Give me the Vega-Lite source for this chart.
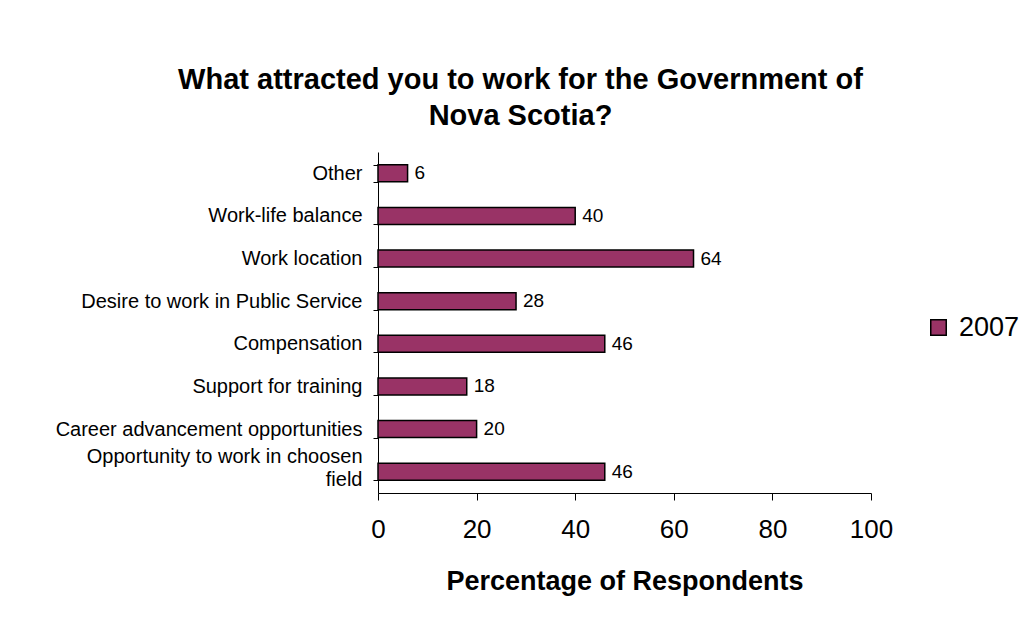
{
  "$schema": "https://vega.github.io/schema/vega-lite/v6.json",
  "width": 493,
  "height": 341,
  "autosize": {"type": "none"},
  "padding": {"left": 378, "top": 152, "right": 157, "bottom": 136},
  "background": "white",
  "title": {
    "text": ["What attracted you to work for the Government of", "Nova Scotia?"],
    "font": "Liberation Sans",
    "fontSize": 29,
    "fontWeight": "bold",
    "color": "black",
    "anchor": "middle",
    "dx": -104,
    "offset": 11,
    "lineHeight": 36
  },
  "data": {
    "values": [
      {"category": "Other", "value": 6, "year": "2007"},
      {"category": "Work-life balance", "value": 40, "year": "2007"},
      {"category": "Work location", "value": 64, "year": "2007"},
      {"category": "Desire to work in Public Service", "value": 28, "year": "2007"},
      {"category": "Compensation", "value": 46, "year": "2007"},
      {"category": "Support for training", "value": 18, "year": "2007"},
      {"category": "Career advancement opportunities", "value": 20, "year": "2007"},
      {"category": "Opportunity to work in choosen field", "value": 46, "year": "2007"}
    ]
  },
  "encoding": {
    "y": {
      "field": "category",
      "type": "nominal",
      "sort": null,
      "scale": {"paddingInner": 0.6, "paddingOuter": 0.3},
      "axis": {
        "title": null,
        "tickBand": "extent",
        "tickSize": 5,
        "tickColor": "black",
        "domainColor": "black",
        "labelFont": "Liberation Sans",
        "labelFontSize": 20,
        "labelColor": "black",
        "labelPadding": 11,
        "labelLimit": 400,
        "labelLineHeight": 23,
        "labelOffset": {"condition": {"test": "datum.label == 'Opportunity to work in choosen field'", "value": -15}, "value": 0},
        "labelExpr": "datum.label == 'Opportunity to work in choosen field' ? ['Opportunity to work in choosen', 'field'] : datum.label"
      }
    },
    "x": {
      "field": "value",
      "type": "quantitative",
      "scale": {"domain": [0, 100]},
      "axis": {
        "title": "Percentage of Respondents",
        "titleFont": "Liberation Sans",
        "titleFontSize": 27,
        "titleFontWeight": "bold",
        "titleColor": "black",
        "titlePadding": 26,
        "values": [0, 20, 40, 60, 80, 100],
        "grid": false,
        "tickSize": 7,
        "tickColor": "black",
        "domainColor": "black",
        "labelFont": "Liberation Sans",
        "labelFontSize": 26,
        "labelColor": "black",
        "labelPadding": 16,
        "labelFlush": false
      }
    }
  },
  "layer": [
    {
      "mark": {"type": "bar", "stroke": "black", "strokeWidth": 1.5},
      "encoding": {
        "fill": {
          "field": "year",
          "type": "nominal",
          "scale": {"range": ["#993366"]},
          "legend": {
            "title": null,
            "orient": "none",
            "legendX": 547,
            "legendY": 162,
            "symbolType": "square",
            "symbolSize": 240,
            "symbolStrokeColor": "black",
            "symbolStrokeWidth": 1.5,
            "labelFont": "Liberation Sans",
            "labelFontSize": 27,
            "labelColor": "black",
            "labelOffset": 7
          }
        }
      }
    },
    {
      "mark": {
        "type": "text",
        "align": "left",
        "baseline": "middle",
        "dx": 7,
        "font": "Liberation Sans",
        "fontSize": 19,
        "color": "black"
      },
      "encoding": {
        "text": {"field": "value", "type": "quantitative"}
      }
    }
  ],
  "config": {
    "view": {"stroke": null}
  }
}
